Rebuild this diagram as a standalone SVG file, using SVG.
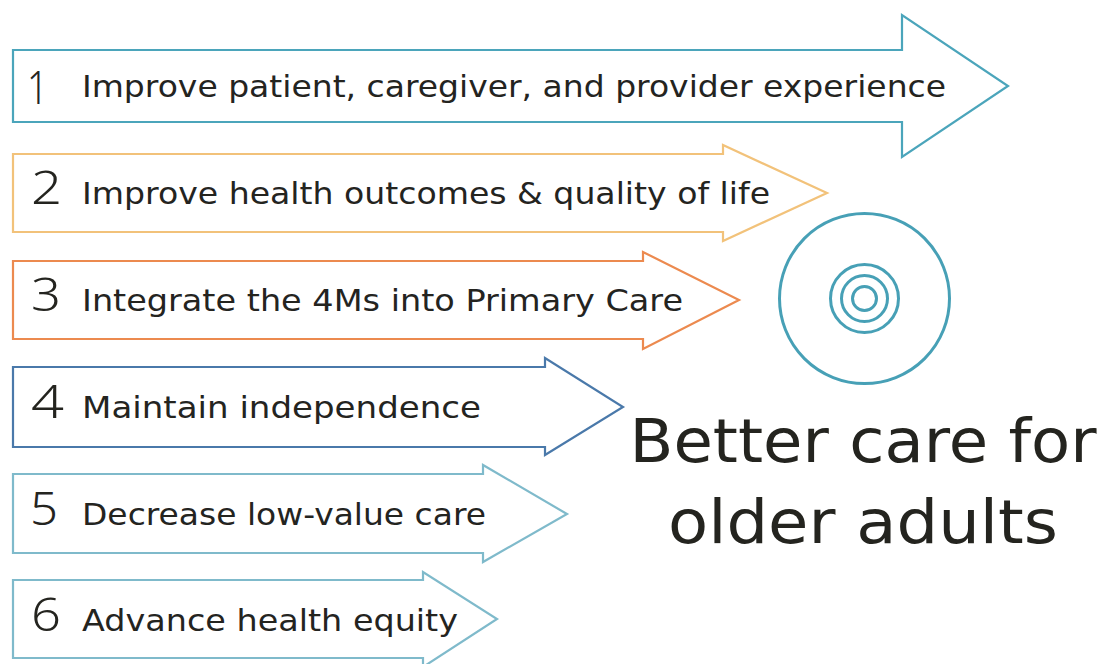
<svg xmlns="http://www.w3.org/2000/svg" width="1104" height="664" viewBox="0 0 1104 664">
  <style>
    .arrow { fill: #ffffff; stroke-width: 2.2; stroke-linejoin: miter; }
    .num { font-family: "Noto Sans", "DejaVu Sans", sans-serif; font-weight: 300; font-size: 46px; fill: #24241f; }
    .label { font-family: "DejaVu Sans", "Liberation Sans", sans-serif; font-size: 31px; fill: #24241f; }
    .title { font-family: "DejaVu Sans", "Liberation Sans", sans-serif; font-size: 61px; fill: #24241f; text-anchor: middle; }
    .ring { fill: none; stroke: #47a0b6; stroke-width: 3; }
  </style>
  <rect width="1104" height="664" fill="#ffffff"/>

  <g id="goal-1">
    <polygon class="arrow" stroke="#4ba5bb" stroke-width="2.6" points="13,50 902,50 902,15 1008,86 902,157 902,122 13,122"/>
    <text class="num" x="27" y="104" font-size="55" textLength="21" lengthAdjust="spacingAndGlyphs">1</text>
    <text class="label" x="82" y="97" textLength="864" lengthAdjust="spacingAndGlyphs">Improve patient, caregiver, and provider experience</text>
  </g>

  <g id="goal-2">
    <polygon class="arrow" stroke="#f2c27a" points="13,154 723,154 723,145 827,193 723,241 723,232 13,232"/>
    <text class="num" x="31" y="204" textLength="31" lengthAdjust="spacingAndGlyphs">2</text>
    <text class="label" x="82" y="204" textLength="688" lengthAdjust="spacingAndGlyphs">Improve health outcomes &amp; quality of life</text>
  </g>

  <g id="goal-3">
    <polygon class="arrow" stroke="#ec8a4f" points="13,261 643,261 643,252 739,300 643,349 643,339 13,339"/>
    <text class="num" x="31" y="311" textLength="30" lengthAdjust="spacingAndGlyphs">3</text>
    <text class="label" x="82" y="311" textLength="601" lengthAdjust="spacingAndGlyphs">Integrate the 4Ms into Primary Care</text>
  </g>

  <g id="goal-4">
    <polygon class="arrow" stroke="#4a79aa" points="13,367 545,367 545,358 623,407 545,455 545,447 13,447"/>
    <text class="num" x="31" y="418" textLength="33" lengthAdjust="spacingAndGlyphs">4</text>
    <text class="label" x="82" y="418" textLength="399" lengthAdjust="spacingAndGlyphs">Maintain independence</text>
  </g>

  <g id="goal-5">
    <polygon class="arrow" stroke="#7fbacb" points="13,474 483,474 483,465 567,514 483,562 483,553 13,553"/>
    <text class="num" x="30" y="525" textLength="28" lengthAdjust="spacingAndGlyphs">5</text>
    <text class="label" x="82" y="525" textLength="404" lengthAdjust="spacingAndGlyphs">Decrease low-value care</text>
  </g>

  <g id="goal-6">
    <polygon class="arrow" stroke="#7fbacb" points="13,580 423,580 423,572 497,619 423,667 423,658 13,658"/>
    <text class="num" x="31" y="631" textLength="30" lengthAdjust="spacingAndGlyphs">6</text>
    <text class="label" x="82" y="631" textLength="376" lengthAdjust="spacingAndGlyphs">Advance health equity</text>
  </g>

  <g id="target">
    <circle class="ring" cx="864.5" cy="298.5" r="85"/>
    <circle class="ring" cx="864.5" cy="298.5" r="34"/>
    <circle class="ring" cx="864.5" cy="298.5" r="23"/>
    <circle class="ring" cx="864.5" cy="298.5" r="12"/>
  </g>

  <g id="outcome">
    <text class="title" x="863" y="462" textLength="467" lengthAdjust="spacingAndGlyphs">Better care for</text>
    <text class="title" x="863" y="543" textLength="390" lengthAdjust="spacingAndGlyphs">older adults</text>
  </g>

  <g id="connectors"></g>
</svg>
